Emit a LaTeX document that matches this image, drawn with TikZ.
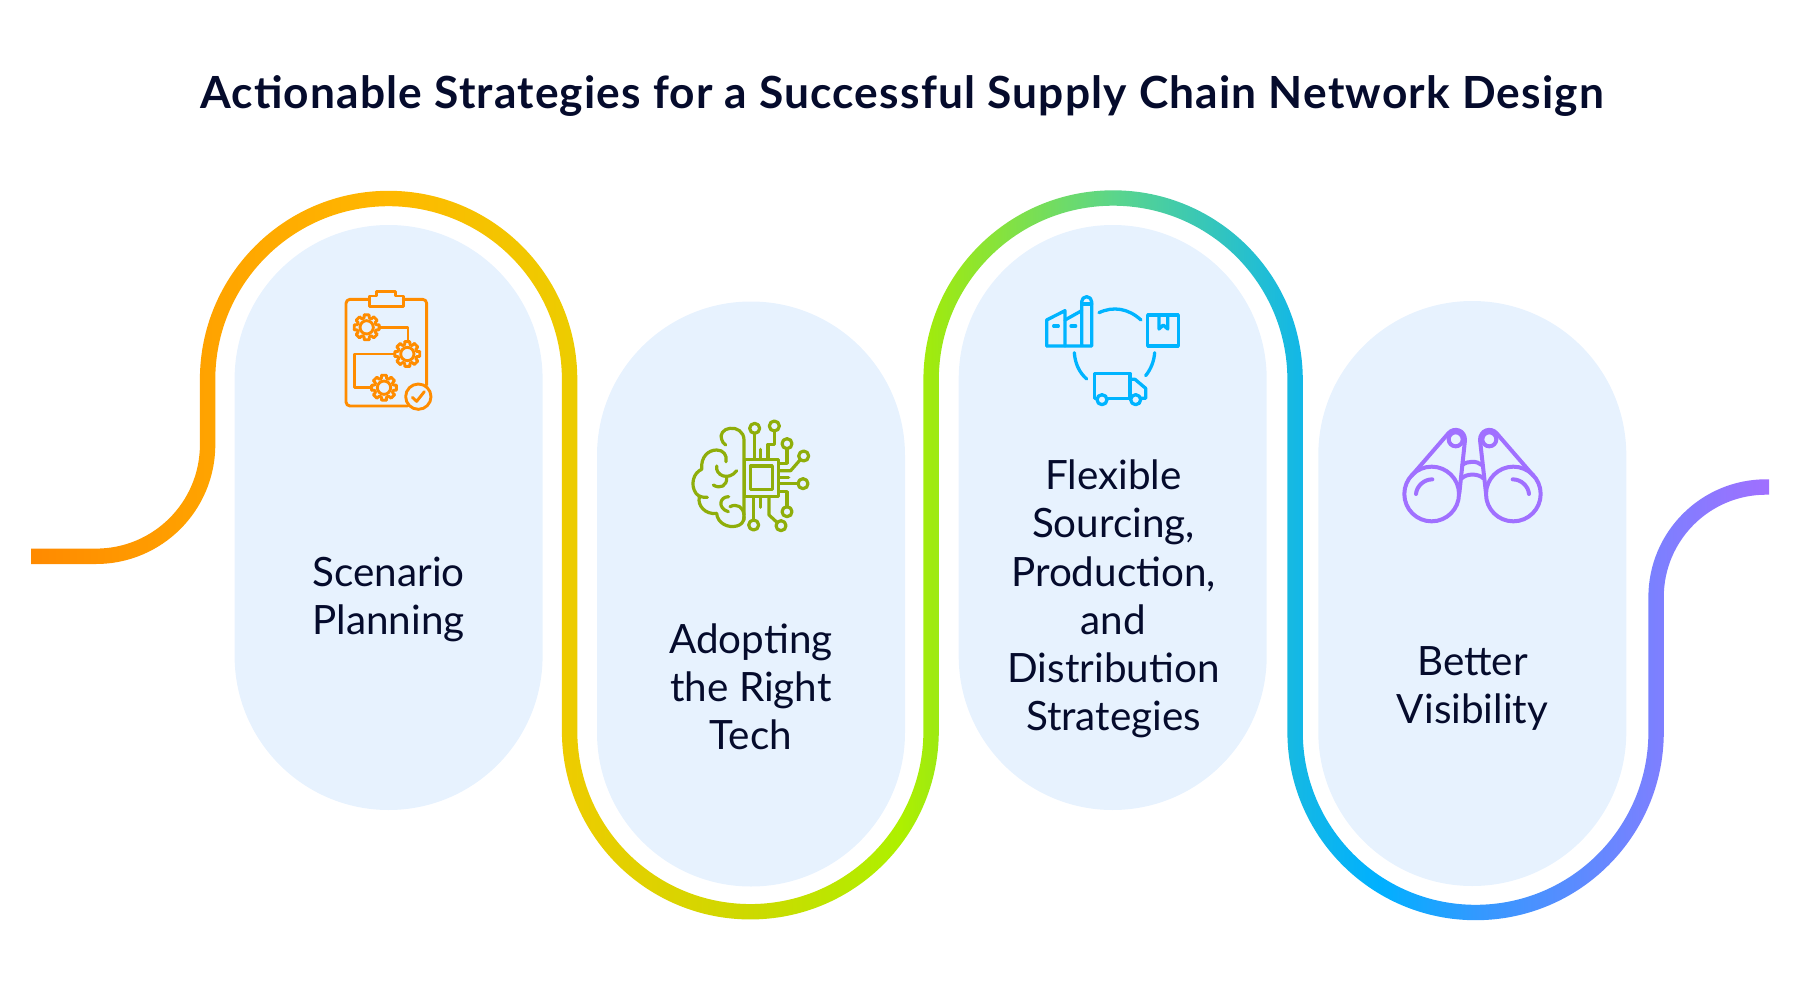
\documentclass[tikz,border=0pt]{standalone}
\usepackage{fontspec}
\setmainfont{Lato}
\newfontfamily\titlefont[LetterSpace=2.7]{Lato}
\definecolor{inktext}{HTML}{050B2C}
\definecolor{pillblue}{HTML}{E7F2FE}
\definecolor{planorange}{HTML}{FF8C00}
\definecolor{techgreen}{HTML}{8FAE0A}
\definecolor{flowblue}{HTML}{00B4FF}
\definecolor{viewpurple}{HTML}{A070FF}
\definecolor{r0}{HTML}{FF8A00}
\definecolor{r1}{HTML}{FFA300}
\definecolor{r2}{HTML}{FFB800}
\definecolor{r3}{HTML}{EDCC00}
\definecolor{r4}{HTML}{CDD900}
\definecolor{r5}{HTML}{AEF000}
\definecolor{r6}{HTML}{9FEA10}
\definecolor{r7}{HTML}{5AD58C}
\definecolor{r8}{HTML}{14B8E5}
\definecolor{r9}{HTML}{00B0FF}
\definecolor{r10}{HTML}{3399FF}
\definecolor{r11}{HTML}{7C80FF}
\definecolor{r12}{HTML}{A06FFF}
\pgfdeclarehorizontalshading{ribbonshade}{100bp}{
  color(0bp)=(r0); color(25bp)=(r0); color(30.06bp)=(r1); color(35.27bp)=(r2);
  color(40.48bp)=(r3); color(45.7bp)=(r4); color(50bp)=(r5); color(50.95bp)=(r6);
  color(56.2bp)=(r7); color(61.4bp)=(r8); color(63.8bp)=(r9); color(66.6bp)=(r10);
  color(71.75bp)=(r11); color(75bp)=(r12); color(100bp)=(r12)}
\tikzset{
  pillbox/.style={fill=pillblue, rounded corners=77pt, minimum width=154pt, minimum height=292.5pt, inner sep=0pt},
  steplabel/.style={text=inktext, align=center, font=\fontsize{20.2}{24.1}\selectfont, inner sep=0pt},
  iconzoom/.style={x=0.16667pt, y=-0.16667pt, line width=1.45pt, line cap=round, line join=round},
}
\newcommand{\gearicon}[1]{%
  \draw (#1) circle (20);
  \foreach \a in {0,45,...,315}
    \draw[shift={(#1)}] (\a-11:38) -- (\a+11:38) -- (\a+16:29) -- (\a+29:29) -- (\a+34:38);
}
\begin{document}
\begin{tikzpicture}[x=0.5pt, y=-0.5pt]
\useasboundingbox (0,0) rectangle (1801,1001);

% Draw the pills behind everything
\node[pillbox] (pillplan) at (388.6,517.5) {};
\node[pillbox] (pilltech) at (751,594) {};
\node[pillbox] (pillflow) at (1112.7,517.5) {};
\node[pillbox] (pillview) at (1472.3,593.5) {};

% Draw the ribbon as one closed outline
\shade[shading=ribbonshade] (31,564) -- (96,564) arc[start angle=90, end angle=0, radius=119.3]
  -- ++(0,-65.2) arc[start angle=180, end angle=360, radius=173.3]
  -- ++(0,351.5) arc[start angle=180, end angle=0, radius=188.45]
  -- ++(0,-351) arc[start angle=180, end angle=360, radius=174.3]
  -- ++(0,352) arc[start angle=180, end angle=0, radius=188.2]
  -- ++(0,-135) arc[start angle=180, end angle=270, radius=102.3]
  -- (1769,494.7) -- (1769,479.3) -- (1766.1,479.3)
  arc[start angle=270, end angle=180, radius=117.7]
  -- ++(0,135) arc[start angle=0, end angle=180, radius=172.8]
  -- ++(0,-352) arc[start angle=360, end angle=180, radius=189.7]
  -- ++(0,351) arc[start angle=0, end angle=180, radius=173.05]
  -- ++(0,-351.5) arc[start angle=360, end angle=180, radius=188.7]
  -- ++(0,65.2) arc[start angle=0, end angle=90, radius=103.9]
  -- (31,548.6) -- cycle;

% Title and labels
\node[text=inktext, font=\fontsize{22.15}{26}\titlefont\bfseries\selectfont, inner sep=0pt] (title) at (902,96.5) {Actionable Strategies for a Successful Supply Chain Network Design};
\node[steplabel] (labelplan) at (388.6,599.5) {Scenario\\Planning};
\node[steplabel] (labeltech) at (751,687) {Adopting\\the Right\\Tech};
\node[steplabel] (labelflow) at (1113.5,599) {Flexible\\Sourcing,\\Production,\\and\\Distribution\\Strategies};
\node[steplabel] (labelview) at (1472.5,688.5) {Better\\Visibility};

% Clipboard icon
\begin{scope}[shift={(320,270)}, iconzoom, planorange]
\draw (146,88) -- (90,88) arc[start angle=270, end angle=180, radius=12] -- (78,396) arc[start angle=180, end angle=90, radius=12] -- (262,408);
\draw (250,88) -- (308,88) arc[start angle=270, end angle=360, radius=12] -- (320,345);
\draw (148,110) -- (148,78) -- (170,78) -- (170,64) -- (226,64) -- (226,78) -- (250,78) -- (250,110) -- cycle;
\gearicon{140,172}
\gearicon{262,252}
\gearicon{192,353}
\draw (178,172) -- (264,172) -- (264,214);
\draw (224,252) -- (104,252) -- (104,352) -- (154,352);
\draw (295,380) circle (38);
\draw (277,382) -- (290,394) -- (313,365);
\end{scope}

% Brain and chip icon
\begin{scope}[shift={(670,400)}, iconzoom, techgreen, line width=1.6pt]
\draw (224,178) rectangle (326,290);
\draw (241,198) rectangle (307,268);
\draw (222,360) -- (222,120) .. controls (222,95) and (200,82) .. (180,85) .. controls (160,86) and (148,105) .. (155,118) .. controls (157,126) and (160,130) .. (167,135);
\draw (168,185) .. controls (172,165) and (160,150) .. (140,150) .. controls (115,150) and (92,170) .. (95,208) .. controls (70,218) and (60,255) .. (78,280) .. controls (85,290) and (100,293) .. (112,292);
\draw (88,292) .. controls (82,315) and (105,345) .. (140,340) .. controls (142,370) and (175,385) .. (200,378) .. controls (212,375) and (222,368) .. (222,350);
\draw (140,198) .. controls (135,225) and (175,245) .. (200,212);
\draw (130,255) .. controls (150,268) and (172,258) .. (170,232);
\draw (176,290) .. controls (148,290) and (142,325) .. (175,335);
\draw (180,320) .. controls (200,310) and (220,320) .. (222,345);
\foreach \cx/\cy in {254/85, 313/78, 351/131, 401/168, 399/251, 351/335, 333/377, 251/375}
  \draw (\cx,\cy) circle (15);
\draw (254,100) -- (254,178);
\draw (272,148) -- (272,178);
\draw (313,93) -- (313,133) -- (294,133) -- (294,178);
\draw (351,146) -- (351,190) -- (326,190);
\draw (390,180) -- (362,212) -- (326,212);
\draw (326,232) -- (356,232);
\draw (384,251) -- (326,251);
\draw (326,275) -- (351,275) -- (351,320);
\draw (272,290) -- (272,322);
\draw (251,360) -- (251,290);
\draw (297,290) -- (297,345) -- (322,368);
\end{scope}

% Factory, parcel and truck icon
\begin{scope}[shift={(1030,280)}, iconzoom, flowblue, line width=1.65pt]
\draw (50,198) -- (185,198) -- (185,65) arc[start angle=0, end angle=-180, radius=15] -- (155,198);
\draw (155,72) -- (185,72);
\draw (50,198) -- (50,120) -- (105,92) -- (105,198);
\draw (105,120) -- (155,92);
\draw (71,138) -- (85,138);
\draw (123,138) -- (137,138);
\draw (207,98) .. controls (250,78) and (295,85) .. (333,120);
\draw (353,105) rectangle (445,198);
\draw (387,105) -- (387,147) -- (400,135) -- (413,147) -- (413,105);
\draw (374,218) .. controls (372,245) and (362,268) .. (347,287);
\draw (133,218) .. controls (135,250) and (148,278) .. (170,297);
\draw (198,355) -- (193,355) -- (193,280) -- (300,280) -- (300,355);
\draw (232,355) -- (302,355);
\draw (300,298) -- (315,298) -- (347,325) -- (347,355) -- (333,355);
\draw (216,359) circle (15);
\draw (317,359) circle (15);
\end{scope}

% Binoculars icon
\begin{scope}[shift={(1380,410)}, iconzoom, viewpurple, line width=2pt]
\draw (155,252) circle (82);
\draw (400,252) circle (82);
\draw (227,88) circle (21);
\draw (328,88) circle (21);
\draw (95,197) -- (205,70) .. controls (222,50) and (255,60) .. (255,90) -- (238,250);
\draw (460,197) -- (350,70) .. controls (333,50) and (300,60) .. (300,90) -- (318,250);
\draw (108,252) .. controls (110,228) and (132,208) .. (157,208);
\draw (398,208) .. controls (423,208) and (445,228) .. (447,252);
\draw (247,165) .. controls (262,152) and (292,152) .. (305,165);
\draw (245,205) .. controls (260,190) and (295,190) .. (310,205);
\end{scope}
\end{tikzpicture}
\end{document}
